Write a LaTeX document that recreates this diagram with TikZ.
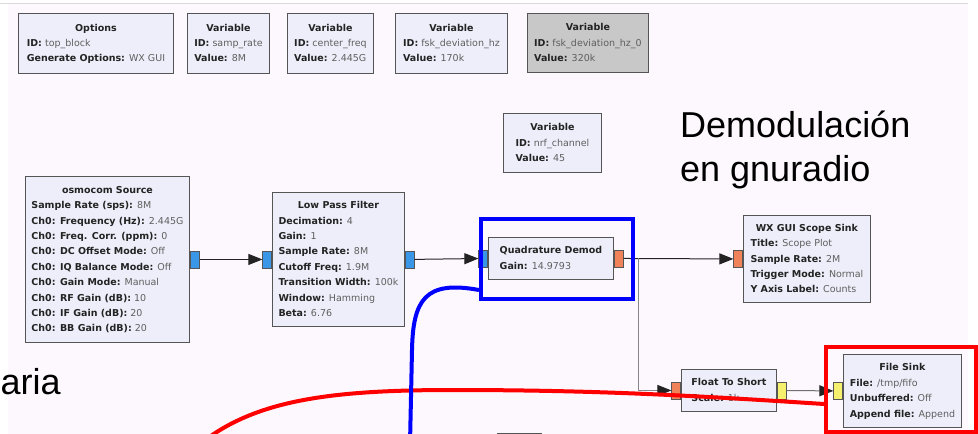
\documentclass[tikz,border=0pt]{standalone}
\usepackage{fontspec}
\setmainfont{DejaVu Sans}
\newfontfamily\slidefont{Liberation Sans}
\usepackage{xcolor}
\usetikzlibrary{arrows.meta, positioning}
\definecolor{canvas}{RGB}{253,248,253}
\definecolor{blkfill}{RGB}{238,238,250}
\definecolor{blkline}{RGB}{85,85,85}
\definecolor{varoff}{RGB}{200,200,200}
\definecolor{keytxt}{RGB}{35,35,35}
\definecolor{valtxt}{RGB}{95,95,95}
\definecolor{pcomplex}{RGB}{58,150,230}
\definecolor{pfloat}{RGB}{240,130,90}
\definecolor{pshort}{RGB}{245,240,110}
\definecolor{wirec}{RGB}{35,35,35}

\newcommand{\kv}[2]{\textbf{#1:} {\color{valtxt}#2}}
\newcommand{\params}[2]{\begin{tabular}{@{}l@{}}\multicolumn{1}{@{}c@{}}{\textbf{#1}}\\#2\end{tabular}}

\begin{document}
\begin{tikzpicture}[
  x=1pt, y=-1pt,
  blk/.style={
    draw=blkline, line width=0.9pt, fill=blkfill, anchor=north west,
    inner sep=1pt, text=keytxt, font=\fontsize{9.5}{15.4}\selectfont
  },
  port/.style={draw=blkline, line width=0.6pt, minimum width=9pt,
    minimum height=17pt, inner sep=0pt},
  arr/.style={-{Triangle[length=14pt,width=11pt]}, line width=1pt, wirec},
  hl/.style={line width=4pt, anchor=north west, inner sep=0pt},
  slide/.style={font=\slidefont\fontsize{36}{40}\selectfont, inner sep=0pt}
]
  \clip (0,0) rectangle (978,434);
  \fill[canvas] (8,4) rectangle (968,440);
  \draw[black!15] (0,3.5) -- (968,3.5);

  % variables and options
  \node[blk, minimum width=155pt, minimum height=60pt] (opt) at (18,13)
    {\params{Options}{\kv{ID}{top\_block}\\\kv{Generate Options}{WX GUI}}};
  \node[blk, minimum width=82pt, minimum height=60pt] (vsr) at (187,13)
    {\params{Variable}{\kv{ID}{samp\_rate}\\\kv{Value}{8M}}};
  \node[blk, minimum width=86pt, minimum height=60pt] (vcf) at (287,13)
    {\params{Variable}{\kv{ID}{center\_freq}\\\kv{Value}{2.445G}}};
  \node[blk, minimum width=112pt, minimum height=60pt] (vfsk) at (395,13)
    {\params{Variable}{\kv{ID}{fsk\_deviation\_hz}\\\kv{Value}{170k}}};
  \node[blk, fill=varoff, minimum width=121pt, minimum height=59pt] (vfskz) at (527,13)
    {\params{Variable}{\kv{ID}{fsk\_deviation\_hz\_0}\\\kv{Value}{320k}}};
  \node[blk, minimum width=98pt, minimum height=59pt] (vnrf) at (503,113)
    {\params{Variable}{\kv{ID}{nrf\_channel}\\\kv{Value}{45}}};

  % flow graph blocks
  \node[blk, minimum width=164pt, minimum height=166pt] (osmo) at (25,176)
    {\params{osmocom Source}{\kv{Sample Rate (sps)}{8M}\\
      \kv{Ch0: Frequency (Hz)}{2.445G}\\\kv{Ch0: Freq. Corr. (ppm)}{0}\\
      \kv{Ch0: DC Offset Mode}{Off}\\\kv{Ch0: IQ Balance Mode}{Off}\\
      \kv{Ch0: Gain Mode}{Manual}\\\kv{Ch0: RF Gain (dB)}{10}\\
      \kv{Ch0: IF Gain (dB)}{20}\\\kv{Ch0: BB Gain (dB)}{20}}};
  \node[blk, minimum width=132pt, minimum height=134pt] (lpf) at (272,192)
    {\params{Low Pass Filter}{\kv{Decimation}{4}\\\kv{Gain}{1}\\
      \kv{Sample Rate}{8M}\\\kv{Cutoff Freq}{1.9M}\\
      \kv{Transition Width}{100k}\\\kv{Window}{Hamming}\\\kv{Beta}{6.76}}};
  \node[blk, minimum width=125pt, minimum height=42pt] (qdem) at (488,237)
    {\params{Quadrature Demod}{\kv{Gain}{14.9793}}};
  \node[blk, minimum width=127pt, minimum height=87pt] (scope) at (743,215)
    {\params{WX GUI Scope Sink}{\kv{Title}{Scope Plot}\\\kv{Sample Rate}{2M}\\
      \kv{Trigger Mode}{Normal}\\\kv{Y Axis Label}{Counts}}};
  \node[blk, minimum width=95pt, minimum height=42pt] (f2s) at (681,369)
    {\params{Float To Short}{\kv{Scale}{1k}}};
  \node[blk, minimum width=118pt, minimum height=73pt] (fsink) at (843,354)
    {\params{File Sink}{\kv{File}{/tmp/fifo}\\\kv{Unbuffered}{Off}\\
      \kv{Append file}{Append}}};
  \node[blk, minimum width=44pt, minimum height=30pt] (cutblk) at (497,432.5) {};

  % ports
  \node[port, fill=pcomplex, anchor=west] (osmo-out) at (osmo.east) {};
  \node[port, fill=pcomplex, anchor=east] (lpf-in) at (lpf.west) {};
  \node[port, fill=pcomplex, anchor=west] (lpf-out) at (lpf.east) {};
  \node[port, fill=pcomplex, anchor=east] (qdem-in) at (qdem.west) {};
  \node[port, fill=pfloat, anchor=west] (qdem-out) at (qdem.east) {};
  \node[port, fill=pfloat, anchor=east] (scope-in) at (scope.west) {};
  \node[port, fill=pfloat, anchor=east] (f2s-in) at (f2s.west) {};
  \node[port, fill=pshort, anchor=west] (f2s-out) at (f2s.east) {};
  \node[port, fill=pshort, anchor=east] (fsink-in) at (fsink.west) {};

  % connections
  \draw[arr] (osmo-out) -- (lpf-in);
  \draw[arr] (lpf-out) -- (qdem-in);
  \draw[arr] (qdem-out) -- (scope-in);
  \coordinate (split) at (638,258);
  \draw[arr, wirec!55, -{Triangle[length=14pt,width=11pt,color=wirec]}] (split) |- (f2s-in);
  \draw[arr, wirec!65, -{Triangle[length=14pt,width=11pt,color=wirec]}] (f2s-out) -- (fsink-in);

  % slide annotations
  \node[slide, anchor=base west] (demtitle) at (680,137) {Demodulación};
  \node[slide, anchor=base west] (demsub) at ([yshift=-44pt]demtitle.base west) {en gnuradio};
  \node[slide, anchor=base west] (binlbl) at (0.5,394.5) {aria};

  \node[hl, draw=red, minimum width=150pt, minimum height=85pt] (hlsink) at (824,345) {};
  \node[hl, draw=blue, minimum width=152pt, minimum height=80pt] (hlqdem) at (479,217) {};

  \coordinate (redend) at (200,444);
  \coordinate (blueend) at (410,444);
  \draw[red, line width=4pt] (redend) .. controls (255,400) and (330,390) .. (453,390)
    .. controls (600,390) and (700,396) .. ([yshift=-14.5pt]hlsink.west);
  \draw[blue, line width=4pt] ([yshift=11pt]hlqdem.south west)
    .. controls (425,280) and (413,300) .. (412,350) -- (blueend);
\end{tikzpicture}
\end{document}
